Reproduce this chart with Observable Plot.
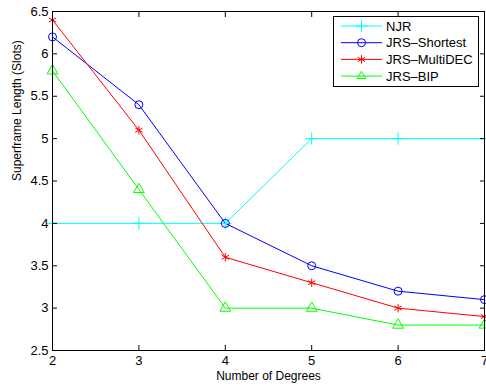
<!DOCTYPE html>
<html><head><meta charset="utf-8">
<script src="https://cdn.jsdelivr.net/npm/d3@7"></script>
<script src="https://cdn.jsdelivr.net/npm/@observablehq/plot@0.6"></script>
<style>body{margin:0;background:#fff;overflow:hidden;}</style>
</head><body><div id="chart"></div>
<script>
const degrees = [2, 3, 4, 5, 6, 7];
const njr = [4, 4, 4, 5, 5, 5];
const shortest = [6.2, 5.4, 4.0, 3.5, 3.2, 3.1];
const multiDEC = [6.4, 5.1, 3.6, 3.3, 3.0, 2.9];
const bip = [5.8, 4.4, 3.0, 3.0, 2.8, 2.8];
const seriesNames = ["NJR", "JRS–Shortest", "JRS–MultiDEC", "JRS–BIP"];
const seriesColors = ["#00ffff", "#0000ff", "#ff0000", "#00ff00"];
const seriesSymbols = ["plus", "circle", "asterisk", "triangle"];
const xTicks = [2, 3, 4, 5, 6, 7];
const yTicks = [2.5, 3, 3.5, 4, 4.5, 5, 5.5, 6, 6.5];
const xLabel = "Number of Degrees";
const yLabel = "Superframe Length (Slots)";

const seriesValues = [njr, shortest, multiDEC, bip];
const data = seriesValues.flatMap((vals, i) => vals.map((v, j) => ({series: seriesNames[i], x: degrees[j], y: v})));

const font = "'Liberation Sans', Arial, Helvetica, sans-serif";
const fmt = d => String(d);
const chart = Plot.plot({
  width: 486, height: 389,
  marginLeft: 52, marginRight: 2, marginTop: 11, marginBottom: 39,
  style: {fontFamily: font, fontSize: "13px", background: "#fff", color: "#000"},
  x: {domain: [2, 7], ticks: xTicks},
  y: {domain: [2.5, 6.5], ticks: yTicks},
  color: {domain: seriesNames, range: seriesColors},
  symbol: {domain: seriesNames, range: seriesSymbols},
  marks: [
    Plot.line(data, {x: "x", y: "y", z: "series", stroke: "series", strokeWidth: 1}),
    Plot.dot(data, {x: "x", y: "y", stroke: "series", symbol: "series", r: 4, strokeWidth: 1}),
    Plot.axisX({anchor: "bottom", ticks: xTicks, tickSize: -5, tickPadding: 10, tickFormat: fmt, label: null, fontSize: 13}),
    Plot.axisX({anchor: "top", ticks: xTicks, tickSize: -5, tickFormat: () => "", label: null}),
    Plot.axisY({anchor: "left", ticks: yTicks, tickSize: -5, tickPadding: 9, tickFormat: fmt, label: null, fontSize: 13}),
    Plot.axisY({anchor: "right", ticks: yTicks, tickSize: -5, tickFormat: () => "", label: null}),
    Plot.frame({stroke: "#000", strokeWidth: 1}),
    Plot.text([xLabel], {frameAnchor: "bottom", dy: 29, fontSize: 12, fill: "#000"}),
    Plot.text([yLabel], {frameAnchor: "left", dx: -35, rotate: -90, fontSize: 12, fill: "#000"})
  ]
});
document.getElementById("chart").appendChild(chart);

// legend box
const svg = d3.select(chart);
const lg = svg.append("g").attr("font-family", font).attr("font-size", 13).attr("text-anchor", "start");
lg.append("rect").attr("x", 333.5).attr("y", 16.5).attr("width", 145).attr("height", 70)
  .attr("fill", "#fff").attr("stroke", "#000").attr("stroke-width", 1);
const symMap = {plus: d3.symbolPlus, circle: d3.symbolCircle, asterisk: d3.symbolAsterisk, triangle: d3.symbolTriangle2};
seriesNames.forEach((name, i) => {
  const yy = 26 + i * 16.7;
  lg.append("line").attr("x1", 341).attr("x2", 382).attr("y1", yy).attr("y2", yy)
    .attr("stroke", seriesColors[i]).attr("stroke-width", 1);
  lg.append("path").attr("transform", `translate(361.5,${yy})`)
    .attr("d", d3.symbol(symMap[seriesSymbols[i]], Math.PI * 16)())
    .attr("fill", "none").attr("stroke", seriesColors[i]).attr("stroke-width", 1);
  lg.append("text").attr("x", 386).attr("y", yy).attr("dy", "0.35em").attr("text-anchor", "start").attr("fill", "#000").text(name);
});
</script></body></html>
